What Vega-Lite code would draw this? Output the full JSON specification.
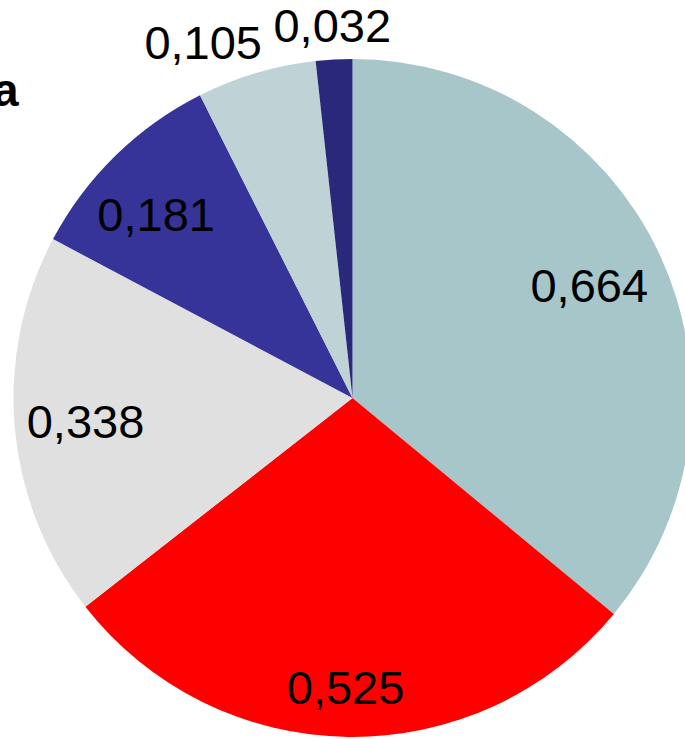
{
  "$schema": "https://vega.github.io/schema/vega-lite/v6.json",
  "width": 705,
  "height": 796,
  "autosize": "none",
  "padding": 0,
  "background": "white",
  "view": {"stroke": null},
  "title": {
    "text": "a",
    "anchor": "start",
    "frame": "group",
    "orient": "top",
    "offset": 0,
    "dx": -7,
    "dy": 152,
    "baseline": "alphabetic",
    "font": "Liberation Sans",
    "fontSize": 46,
    "fontWeight": "bold",
    "color": "black"
  },
  "data": {
    "values": [
      {"slice": "s1", "value": 0.664, "label": "0,664"},
      {"slice": "s2", "value": 0.525, "label": "0,525"},
      {"slice": "s3", "value": 0.338, "label": "0,338"},
      {"slice": "s4", "value": 0.181, "label": "0,181"},
      {"slice": "s5", "value": 0.105, "label": "0,105"},
      {"slice": "s6", "value": 0.032, "label": "0,032"}
    ]
  },
  "encoding": {
    "theta": {"field": "value", "type": "quantitative", "stack": true},
    "order": {"field": "slice", "type": "ordinal"}
  },
  "layer": [
    {
      "mark": {"type": "arc", "outerRadius": 339},
      "encoding": {
        "color": {
          "field": "slice",
          "type": "nominal",
          "legend": null,
          "scale": {
            "domain": ["s1", "s2", "s3", "s4", "s5", "s6"],
            "range": ["#a6c6c9", "#ff0000", "#e0e0e0", "#363498", "#bfd3d7", "#29287a"]
          }
        }
      }
    },
    {
      "mark": {"type": "text", "radius": 265, "dx": -3, "dy": 3, "font": "Liberation Sans", "fontSize": 47, "color": "black"},
      "encoding": {
        "text": {"condition": {"test": "datum.label == '0,664' || datum.label == '0,338'", "field": "label"}, "value": ""}
      }
    },
    {
      "mark": {"type": "text", "radius": 265, "dx": -11, "dy": 8, "font": "Liberation Sans", "fontSize": 47, "color": "black"},
      "encoding": {
        "text": {"condition": {"test": "datum.label == '0,181'", "field": "label"}, "value": ""}
      }
    },
    {
      "mark": {"type": "text", "radius": 290, "dx": -3, "dy": 2, "font": "Liberation Sans", "fontSize": 47, "color": "black"},
      "encoding": {
        "text": {"condition": {"test": "datum.label == '0,525'", "field": "label"}, "value": ""}
      }
    },
    {
      "mark": {"type": "text", "radius": 371, "font": "Liberation Sans", "fontSize": 47, "color": "black"},
      "encoding": {
        "text": {"condition": {"test": "datum.label == '0,032'", "field": "label"}, "value": ""}
      }
    },
    {
      "mark": {"type": "text", "radius": 371, "dx": -44, "dy": 3, "font": "Liberation Sans", "fontSize": 47, "color": "black"},
      "encoding": {
        "text": {"condition": {"test": "datum.label == '0,105'", "field": "label"}, "value": ""}
      }
    }
  ]
}
